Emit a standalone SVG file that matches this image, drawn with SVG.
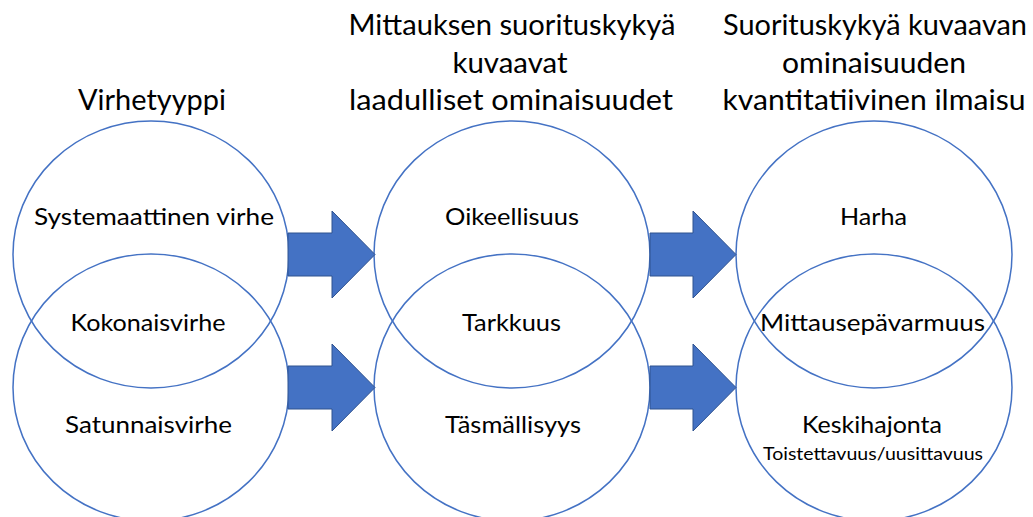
<svg xmlns="http://www.w3.org/2000/svg" width="1033" height="517" viewBox="0 0 1033 517">
<style>
.c{fill:none;stroke:#4472C4;stroke-width:1.5}
.a{fill:#4472C4;stroke:#2F528F;stroke-width:1}
text{font-family:Lato,"Open Sans","Liberation Sans",sans-serif;fill:#000;text-anchor:middle}
.h{font-size:28px}
.l{font-size:24px}
.s{font-size:17px}
</style>
<rect width="1033" height="517" fill="#fff"/>
<g id="headings">
<text class="h" x="152" y="110" textLength="148" lengthAdjust="spacingAndGlyphs">Virhetyyppi</text>
<text class="h" x="512" y="35" textLength="327" lengthAdjust="spacingAndGlyphs">Mittauksen suorituskykyä</text>
<text class="h" x="510" y="73" textLength="115" lengthAdjust="spacingAndGlyphs">kuvaavat</text>
<text class="h" x="511" y="110" textLength="324" lengthAdjust="spacingAndGlyphs">laadulliset ominaisuudet</text>
<text class="h" x="875" y="35" textLength="304" lengthAdjust="spacingAndGlyphs">Suorituskykyä kuvaavan</text>
<text class="h" x="874" y="73" textLength="184" lengthAdjust="spacingAndGlyphs">ominaisuuden</text>
<text class="h" x="874" y="110" textLength="303" lengthAdjust="spacingAndGlyphs">kvantitatiivinen ilmaisu</text>
</g>
<g id="node-systematic">
<ellipse class="c" cx="151" cy="254.5" rx="138" ry="133.5"/>
<text class="l" x="154" y="225" textLength="240" lengthAdjust="spacingAndGlyphs">Systemaattinen virhe</text>
</g>
<g id="node-random">
<ellipse class="c" cx="151" cy="387.5" rx="138" ry="133.5"/>
<text class="l" x="148.5" y="433" textLength="167" lengthAdjust="spacingAndGlyphs">Satunnaisvirhe</text>
</g>
<g id="node-total">
<text class="l" x="148" y="331" textLength="155" lengthAdjust="spacingAndGlyphs">Kokonaisvirhe</text>
</g>
<g id="node-trueness">
<ellipse class="c" cx="512" cy="254.5" rx="138" ry="133.5"/>
<text class="l" x="512" y="225" textLength="134" lengthAdjust="spacingAndGlyphs">Oikeellisuus</text>
</g>
<g id="node-precision">
<ellipse class="c" cx="512" cy="387.5" rx="138" ry="133.5"/>
<text class="l" x="513" y="433" textLength="136" lengthAdjust="spacingAndGlyphs">Täsmällisyys</text>
</g>
<g id="node-accuracy">
<text class="l" x="511.5" y="331" textLength="99" lengthAdjust="spacingAndGlyphs">Tarkkuus</text>
</g>
<g id="node-bias">
<ellipse class="c" cx="874" cy="254.5" rx="138" ry="133.5"/>
<text class="l" x="873.5" y="225" textLength="67" lengthAdjust="spacingAndGlyphs">Harha</text>
</g>
<g id="node-stddev">
<ellipse class="c" cx="874" cy="387.5" rx="138" ry="133.5"/>
<text class="l" x="872" y="433" textLength="140" lengthAdjust="spacingAndGlyphs">Keskihajonta</text>
<text class="s" x="873" y="460" textLength="220" lengthAdjust="spacingAndGlyphs">Toistettavuus/uusittavuus</text>
</g>
<g id="node-uncertainty">
<text class="l" x="872.5" y="331" textLength="225" lengthAdjust="spacingAndGlyphs">Mittausepävarmuus</text>
</g>
<g id="connectors">
<path class="a" d="M288,233 H332 V211 L375,254.5 L332,298 V276 H288 Z"/>
<path class="a" d="M288,366 H332 V344 L375,387.5 L332,431 V409 H288 Z"/>
<path class="a" d="M650,233 H693 V211 L736,254.5 L693,298 V276 H650 Z"/>
<path class="a" d="M650,366 H693 V344 L736,387.5 L693,431 V409 H650 Z"/>
</g>
</svg>
